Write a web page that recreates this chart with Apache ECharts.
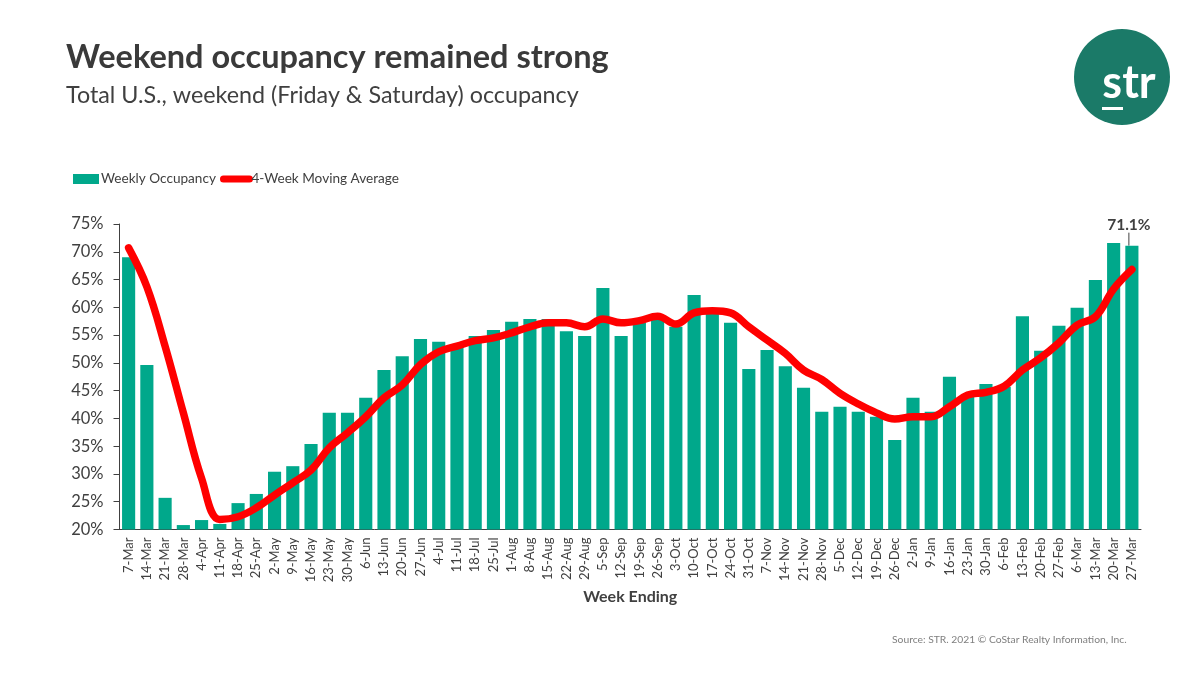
<!DOCTYPE html>
<html>
<head>
<meta charset="utf-8">
<style>
  html, body { margin: 0; background: #fff; }
  #chart { width: 1200px; height: 675px; }
</style>
<script src="https://cdn.jsdelivr.net/npm/echarts@6/dist/echarts.min.js"></script>
</head>
<body>
<div id="chart"></div>
<script>
const weeks = ['7-Mar','14-Mar','21-Mar','28-Mar','4-Apr','11-Apr','18-Apr','25-Apr','2-May','9-May','16-May','23-May','30-May','6-Jun','13-Jun','20-Jun','27-Jun','4-Jul','11-Jul','18-Jul','25-Jul','1-Aug','8-Aug','15-Aug','22-Aug','29-Aug','5-Sep','12-Sep','19-Sep','26-Sep','3-Oct','10-Oct','17-Oct','24-Oct','31-Oct','7-Nov','14-Nov','21-Nov','28-Nov','5-Dec','12-Dec','19-Dec','26-Dec','2-Jan','9-Jan','16-Jan','23-Jan','30-Jan','6-Feb','13-Feb','20-Feb','27-Feb','6-Mar','13-Mar','20-Mar','27-Mar']
const occupancy = [69.0,49.6,25.7,20.8,21.7,21.0,24.75,26.4,30.4,31.4,35.4,41.0,41.0,43.7,48.7,51.2,54.3,53.8,53.0,54.85,55.9,57.4,57.9,57.9,55.7,54.85,63.5,54.85,57.2,58.1,56.5,62.2,59.5,57.2,48.9,52.3,49.4,45.5,41.2,42.1,41.2,40.3,36.1,43.7,41.2,47.5,43.9,46.2,45.7,58.4,52.2,56.7,59.9,64.9,71.6,71.1]
const movingAvg = [70.7,63.7,53,41,29.2,21.8,22.3,23.9,26.2,28.4,30.7,34.7,37.4,40.3,43.7,46,49.7,52,53,54,54.5,55.4,56.5,57.2,57.2,56.5,57.9,57.2,57.6,58.4,57,59,59.4,59,56.5,54.1,51.7,48.7,47,44.5,42.6,41,39.9,40.3,40.3,42.1,44.2,44.7,45.8,48.7,50.9,53.6,56.8,58.3,63.3,66.8]

const FONT = 'Lato'
const TEXT = '#404040'

const chart = echarts.init(document.getElementById('chart'))
chart.setOption({
    animation: false,
    textStyle: { fontFamily: FONT },
    title: [
        {
            text: 'Weekend occupancy remained strong',
            left: 61,
            top: 36,
            textStyle: { fontFamily: FONT, fontSize: 32.5, fontWeight: 'bold', color: '#3a3a3a' }
        },
        {
            text: 'Total U.S., weekend (Friday & Saturday) occupancy',
            left: 61,
            top: 79,
            textStyle: { fontFamily: FONT, fontSize: 23.3, fontWeight: 'normal', color: TEXT }
        },
        {
            text: 'Source: STR. 2021 © CoStar Realty Information, Inc.',
            left: 887,
            top: 630,
            textStyle: { fontFamily: FONT, fontSize: 10.3, fontWeight: 'normal', color: '#7f7f7f' }
        }
    ],
    legend: {
        left: 68,
        top: 167,
        itemWidth: 26,
        itemHeight: 10,
        itemGap: 4,
        textStyle: { fontFamily: FONT, fontSize: 13.6, color: TEXT, padding: [0, 0, 0, -3] },
        data: [
            { name: 'Weekly Occupancy', icon: 'rect' },
            { name: '4-Week Moving Average', itemStyle: { opacity: 0 }, lineStyle: { width: 7, cap: 'round' } }
        ]
    },
    grid: { left: 119.5, right: 59, top: 224, bottom: 145.5 },
    xAxis: {
        type: 'category',
        data: weeks,
        name: 'Week Ending',
        nameLocation: 'middle',
        nameGap: 59,
        nameTextStyle: { fontFamily: FONT, fontSize: 16, fontWeight: 'bold', color: TEXT },
        axisLine: { lineStyle: { color: '#404040', width: 1 } },
        axisTick: { show: false },
        axisLabel: { rotate: 90, interval: 0, fontSize: 13, color: TEXT, margin: 8 }
    },
    yAxis: {
        type: 'value',
        min: 20,
        max: 75,
        interval: 5,
        splitLine: { show: false },
        axisLine: { show: true, lineStyle: { color: '#404040', width: 1 } },
        axisTick: { show: true, length: 6, lineStyle: { color: '#404040' } },
        axisLabel: { formatter: '{value}%', fontSize: 16.5, color: TEXT, margin: 16, padding: [3, 0, 0, 0] }
    },
    series: [
        {
            name: 'Weekly Occupancy',
            type: 'bar',
            barCategoryGap: '28%',
            itemStyle: { color: '#00A88B' },
            data: occupancy.map((v, i) => i === occupancy.length - 1 ? {
                value: v,
                label: {
                    show: true,
                    position: 'top',
                    formatter: '{c}%',
                    fontFamily: FONT,
                    fontSize: 15.5,
                    fontWeight: 'bold',
                    color: TEXT
                },
                labelLine: { show: true, lineStyle: { color: '#404040', width: 1 } }
            } : v),
            labelLayout: { dx: -3, dy: -8 },
            labelLine: { show: true }
        },
        {
            name: '4-Week Moving Average',
            type: 'line',
            data: movingAvg,
            smooth: 0.4,
            showSymbol: false,
            symbol: 'none',
            lineStyle: { color: '#FF0000', width: 7.5, cap: 'round', join: 'round' },
            itemStyle: { color: '#FF0000' },
            z: 5
        }
    ],
    graphic: [
        { type: 'circle', shape: { cx: 1122, cy: 77, r: 48 }, style: { fill: '#1B7A68' } },
        {
            type: 'text',
            x: 1129,
            y: 83,
            style: {
                text: 'str',
                fill: '#fff',
                fontFamily: FONT,
                fontSize: 45,
                fontWeight: 'bold',
                align: 'center',
                verticalAlign: 'middle'
            }
        },
        { type: 'rect', shape: { x: 1102, y: 107, width: 21, height: 3 }, style: { fill: '#fff' } }
    ]
})
</script>
</body>
</html>
